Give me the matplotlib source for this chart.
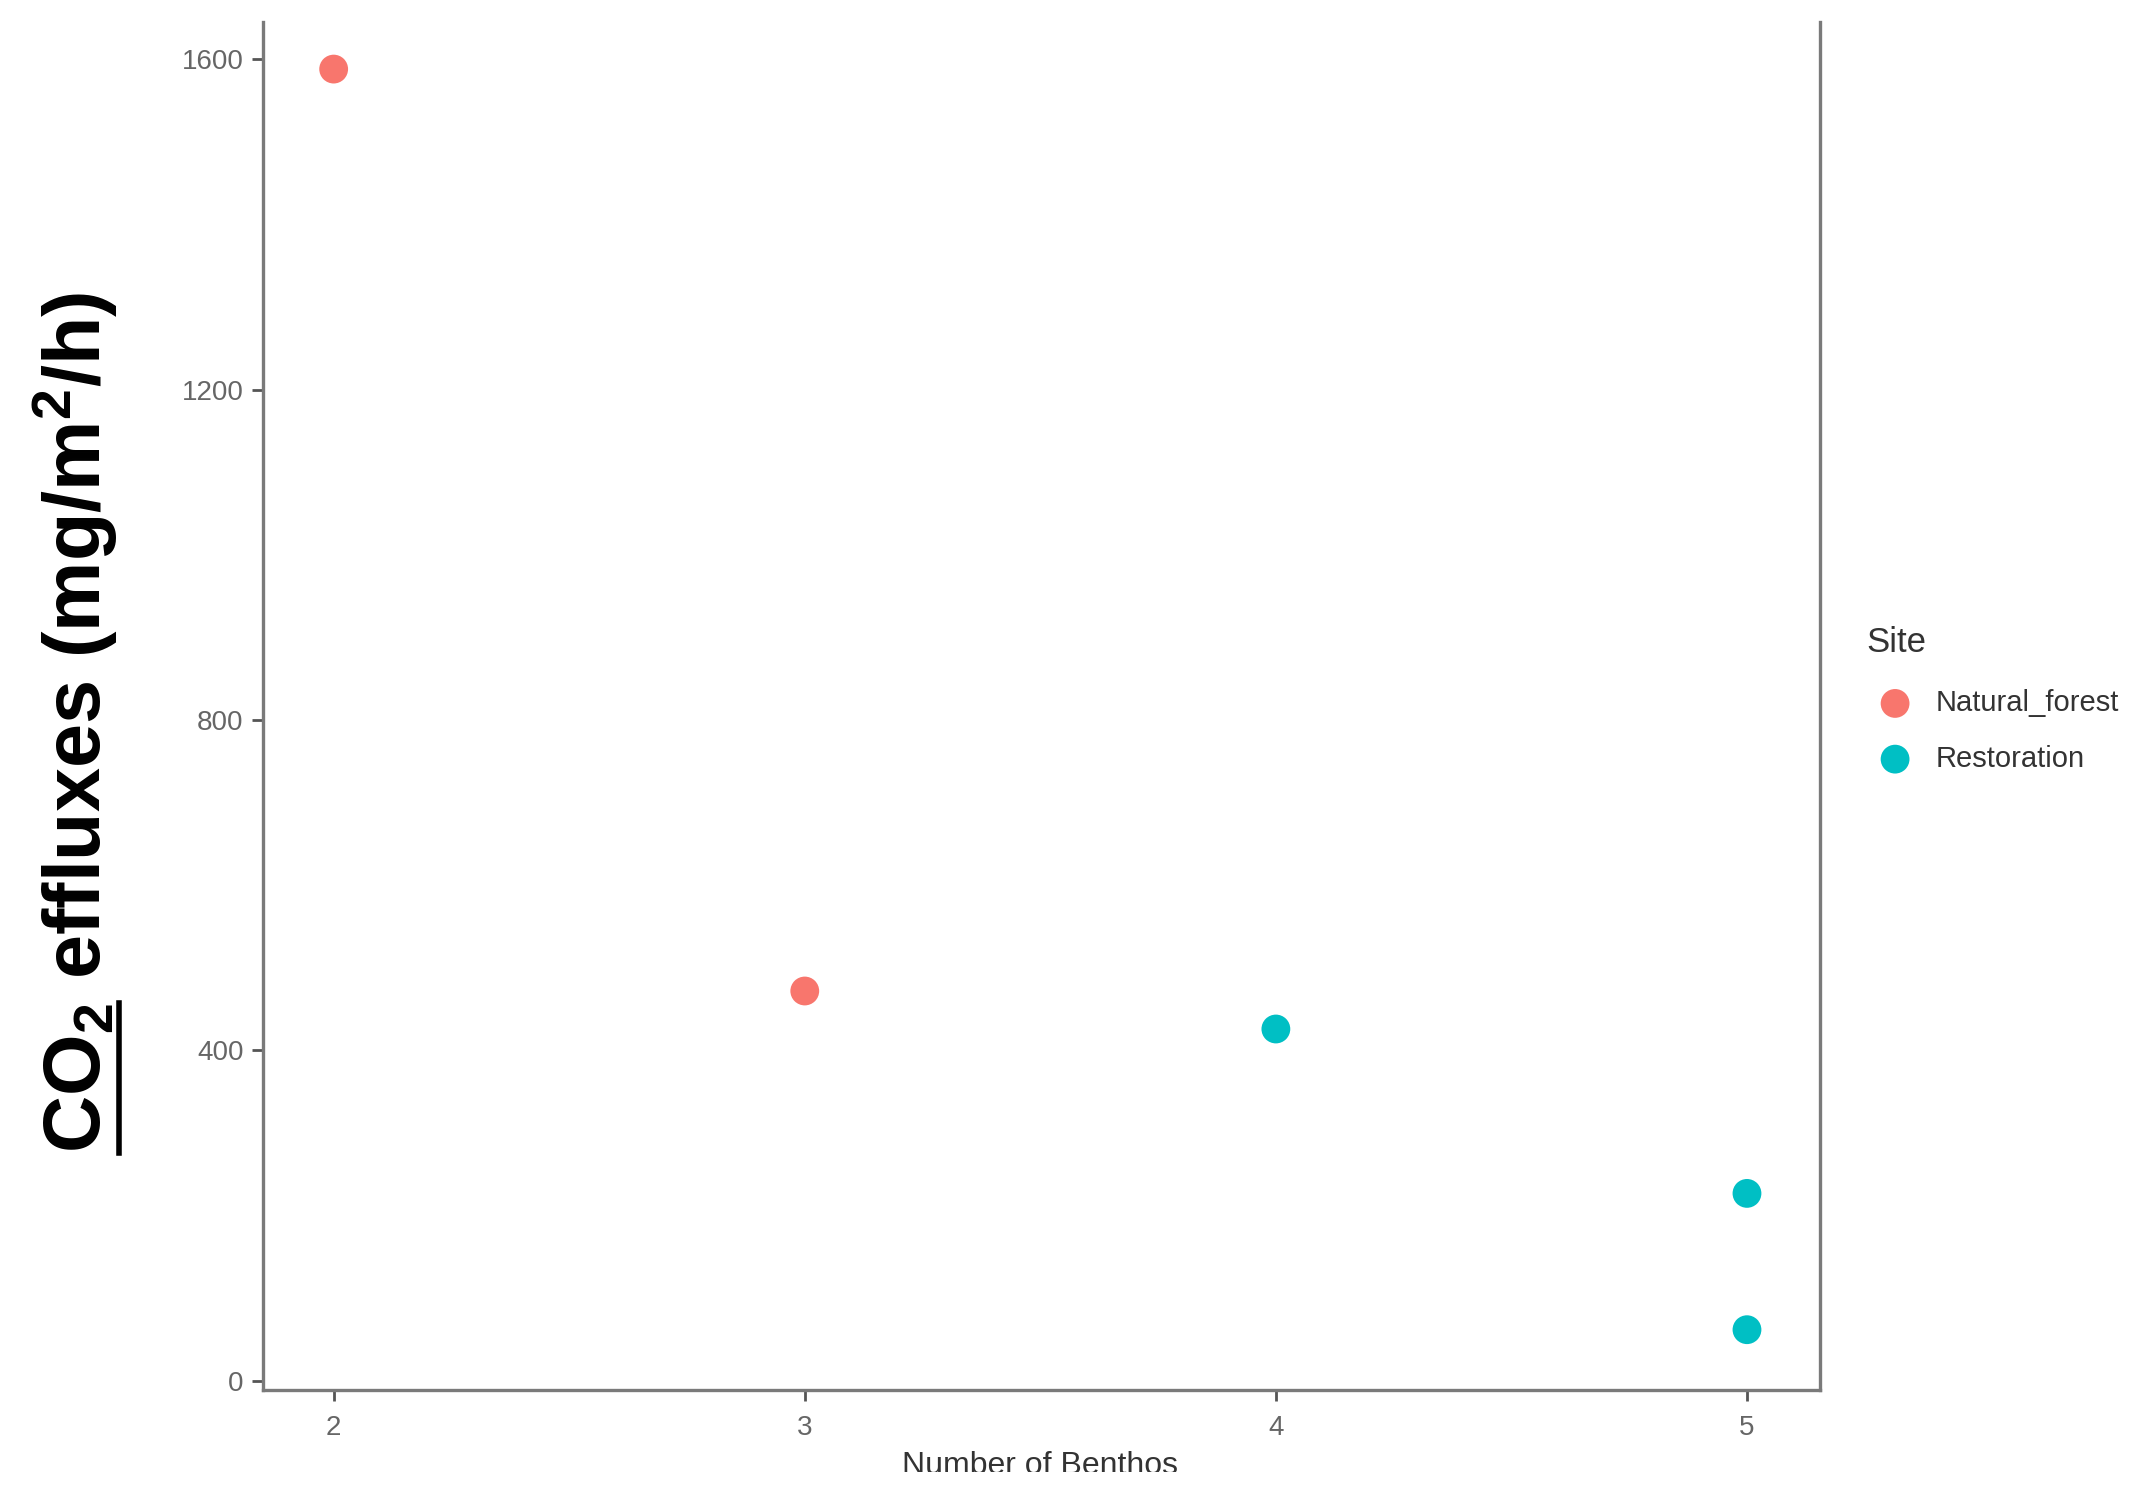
import matplotlib
matplotlib.use("Agg")
import matplotlib.pyplot as plt
from matplotlib.transforms import Bbox
from matplotlib.lines import Line2D

# Data
natural_x = [2, 3]
natural_y = [1588, 472]
restoration_x = [4, 5, 5]
restoration_y = [426, 227, 62]
series_names = ["Natural_forest", "Restoration"]
series_colors = ["#F8766D", "#00BFC4"]
x_ticks = [2, 3, 4, 5]
y_ticks = [0, 400, 800, 1200, 1600]

plt.rcParams['font.family'] = ['Liberation Sans', 'DejaVu Sans']
plt.rcParams['mathtext.fontset'] = 'custom'
plt.rcParams['mathtext.rm'] = 'Liberation Sans:bold'
plt.rcParams['mathtext.it'] = 'Liberation Sans:bold'
plt.rcParams['mathtext.bf'] = 'Liberation Sans:bold'

W, H = 2133, 1498
fig = plt.figure(figsize=(W / 100, H / 100), dpi=100)
ax = fig.add_axes([263 / W, 1 - 1390 / H, (1820 - 263) / W, (1390 - 22) / H])

ax.scatter(natural_x, natural_y, s=430, color=series_colors[0], edgecolors='none',
           label=series_names[0], zorder=3)
ax.scatter(restoration_x, restoration_y, s=430, color=series_colors[1], edgecolors='none',
           label=series_names[1], zorder=3)

ax.set_xlim(1.85, 5.155)
ax.set_ylim(-11, 1645)
ax.set_xticks(x_ticks)
ax.set_yticks(y_ticks)

for side in ['left', 'bottom', 'right']:
    ax.spines[side].set_color('#7a7a7a')
    ax.spines[side].set_linewidth(2.4)
ax.spines['top'].set_visible(False)

ax.tick_params(axis='both', colors='#555555', labelsize=20, length=8, width=2,
               labelcolor='#666666')
ax.tick_params(axis='x', pad=10)
ax.tick_params(axis='y', pad=6)

# y label with underlined CO2
ylab_kw = dict(rotation=90, ha='center', va='center', fontsize=57, color='black',
               fontweight='bold')
t_full = fig.text(75 / W, 1 - 722 / H, r"CO$_2$ effluxes (mg/m$^2$/h)", **ylab_kw)
renderer = fig.canvas.get_renderer()
bb_full = t_full.get_window_extent(renderer)
t_pre = fig.text(0.5, 0.5, r"CO$_2$", **ylab_kw)
bb_pre = t_pre.get_window_extent(renderer)
t_pre.remove()
ux = bb_full.x1 - 1
fig.add_artist(Line2D([ux / W, ux / W], [bb_full.y0 / H, (bb_full.y0 + bb_pre.height) / H],
                      transform=fig.transFigure, color='black', linewidth=4))

# x label (clipped at bottom as in reference)
xl = fig.text(1040 / W, 1 - 1466 / H, "Number of Benthos", ha='center', va='center',
              fontsize=23, color='#333333')
xl.set_clip_box(Bbox.from_extents(0, 1498 - 1472, W, H))
xl.set_clip_on(True)

# Legend
leg = ax.legend(title="Site", loc='center left', bbox_to_anchor=(1.022, 0.505),
                frameon=False, fontsize=21, title_fontsize=25, markerscale=1.0,
                handletextpad=0.4, labelspacing=0.95, borderaxespad=0)
leg._legend_box.align = "left"
leg._legend_box.sep = 22
for t in leg.get_texts():
    t.set_color('#333333')
leg.get_title().set_color('#333333')

fig.savefig("out.png", dpi=100, facecolor='white')
